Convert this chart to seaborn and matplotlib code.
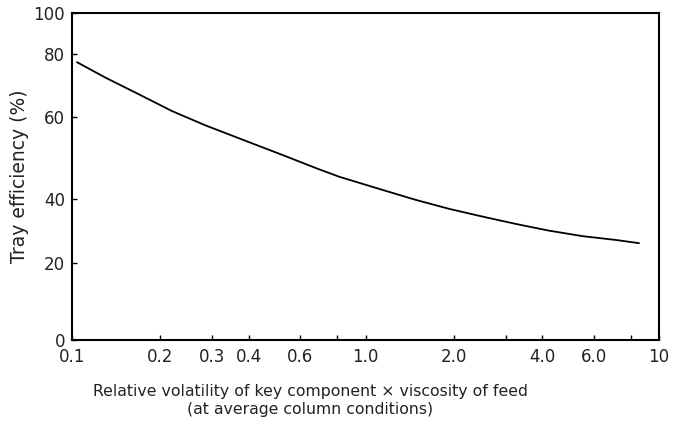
import numpy as np
import pandas as pd
import matplotlib
matplotlib.use("Agg")
import matplotlib.pyplot as plt
from matplotlib.ticker import FixedLocator, FixedFormatter, NullFormatter
import seaborn as sns

# ---- data ----
x_vals = [0.104, 0.130, 0.169, 0.219, 0.284, 0.410, 0.523, 0.680, 0.816,
          1.145, 1.487, 1.931, 2.506, 3.255, 4.226, 5.483, 7.124, 8.55]
eff_vals = [77.4, 72.5, 67.2, 61.9, 58.0, 53.6, 50.7, 47.5, 45.4,
            42.2, 39.7, 36.9, 34.5, 32.2, 30.1, 28.4, 27.2, 26.2]

xtick_vals = [0.1, 0.2, 0.3, 0.4, 0.6, 1.0, 2.0, 4.0, 6.0, 10]
xtick_labels = ["0.1", "0.2", "0.3", "0.4", "0.6", "1.0", "2.0", "4.0", "6.0", "10"]
xminor_vals = [0.8, 3.0, 8.0]
ytick_vals = [0, 20, 40, 60, 80, 100]
ytick_labels = ["0", "20", "40", "60", "80", "100"]
# the original axis spacing is irregular: relative heights of each y tick
ytick_pos = [0, 77, 141, 223, 286, 327]

df = pd.DataFrame({"x": x_vals, "eff": eff_vals})

sns.set_style("ticks")
plt.rcParams["font.family"] = ["DejaVu Sans"]

fig = plt.figure(figsize=(6.84, 4.26), dpi=100)
ax = fig.add_axes([72 / 684, 1 - 340 / 426, (659 - 72) / 684, (340 - 13) / 426])

sns.lineplot(data=df, x="x", y="eff", color="black", linewidth=1.3, ax=ax)

ax.set_xscale("log")
ax.set_xlim(0.1, 10)

yv = np.array(ytick_vals, dtype=float)
yp = np.array(ytick_pos, dtype=float)


def fwd(v):
    return np.interp(v, yv, yp)


def inv(p):
    return np.interp(p, yp, yv)


ax.set_yscale("function", functions=(fwd, inv))
ax.set_ylim(0, 100)

ax.xaxis.set_major_locator(FixedLocator(xtick_vals))
ax.xaxis.set_major_formatter(FixedFormatter(xtick_labels))
ax.xaxis.set_minor_locator(FixedLocator(xminor_vals))
ax.xaxis.set_minor_formatter(NullFormatter())
ax.yaxis.set_major_locator(FixedLocator(ytick_vals))
ax.yaxis.set_major_formatter(FixedFormatter(ytick_labels))
ax.yaxis.set_minor_locator(FixedLocator([]))

for s in ax.spines.values():
    s.set_linewidth(1.5)
    s.set_color("black")
    s.set_visible(True)

ax.tick_params(axis="both", which="both", direction="in", length=3.5, width=1,
               colors="black", labelsize=12, labelcolor="#222222")
ax.tick_params(axis="x", which="major", pad=6)
ax.tick_params(axis="y", which="major", pad=5)

ax.set_xlabel("Relative volatility of key component \u00d7 viscosity of feed\n(at average column conditions)",
              fontsize=11.3, color="#222222", linespacing=1.25)
ax.xaxis.set_label_coords((310 - 72) / 587, (340 - 384) / 327)
ax.set_ylabel("Tray efficiency (%)", fontsize=13.5, color="#222222")
ax.yaxis.set_label_coords((29 - 72) / 587, 0.5)

fig.savefig("out.png", dpi=100, facecolor="white")
